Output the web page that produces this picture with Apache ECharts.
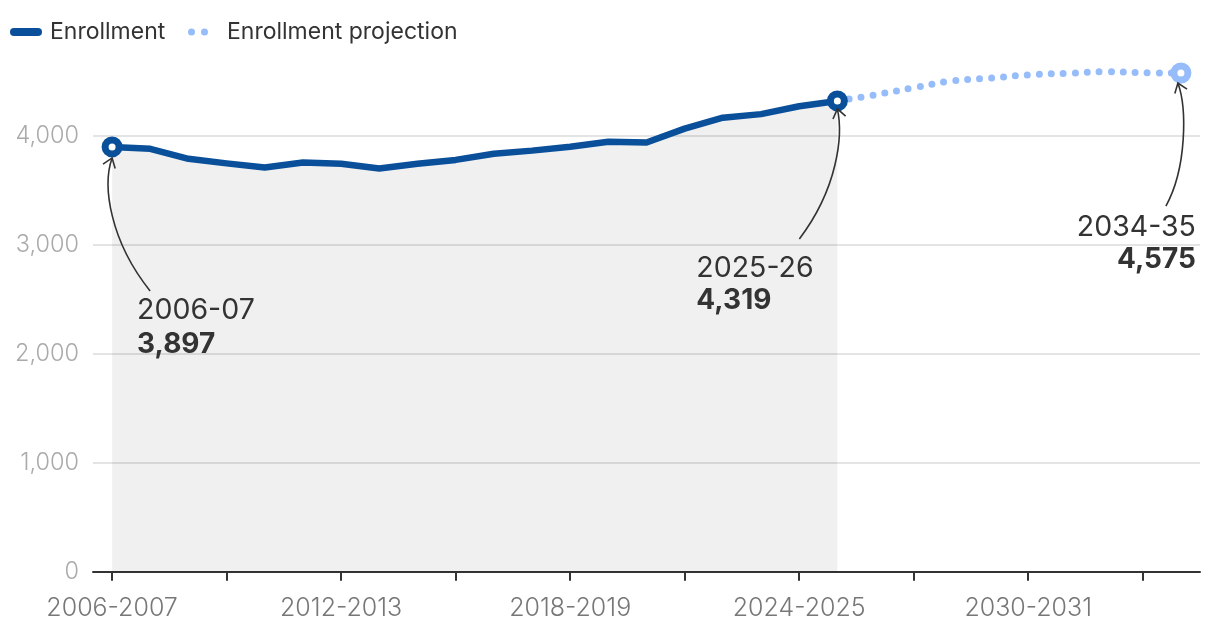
<!DOCTYPE html>
<html>
<head>
<meta charset="utf-8">
<script src="https://cdn.jsdelivr.net/npm/echarts@6/dist/echarts.min.js"></script>
<style>
html,body{margin:0;padding:0;background:#fff;}
#chart{width:1220px;height:632px;}
</style>
</head>
<body>
<div id="chart"></div>
<script>
const categories = ['2006-2007','2007-2008','2008-2009','2009-2010','2010-2011','2011-2012','2012-2013','2013-2014','2014-2015','2015-2016','2016-2017','2017-2018','2018-2019','2019-2020','2020-2021','2021-2022','2022-2023','2023-2024','2024-2025','2025-2026','2026-2027','2027-2028','2028-2029','2029-2030','2030-2031','2031-2032','2032-2033','2033-2034','2034-2035'];
const enrollment = [3897,3880,3788,3746,3709,3755,3742,3700,3742,3778,3835,3863,3899,3945,3937,4065,4165,4198,4270,4319,null,null,null,null,null,null,null,null,null];
const projection = [null,null,null,null,null,null,null,null,null,null,null,null,null,null,null,null,null,null,null,4319,4376,4440,4503,4528,4558,4572,4587,4578,4575];
const yTicks = [0,1000,2000,3000,4000];
const annotations = [
  {series:'enrollment', index:0, label:'2006-07'},
  {series:'enrollment', index:19, label:'2025-26'},
  {series:'projection', index:28, label:'2034-35'}
];

const DARK = '#0a4f9a';
const LIGHT = '#96bdfa';
const FONT = 'Inter, "DejaVu Sans", sans-serif';

function endpointItems(arr, color, idxs){
  return arr.map((v,i)=> idxs.includes(i) && v!=null ? {
    value:v, symbol:'circle', symbolSize:14,
    itemStyle:{color:'#fff', borderColor:color, borderWidth:7}
  } : v);
}

const chart = echarts.init(document.getElementById('chart'), null, {renderer:'canvas'});
const option = {
  animation:false,
  backgroundColor:'#fff',
  textStyle:{fontFamily:FONT},
  legend:[
    {
      left:10, top:20, padding:0, itemWidth:32, itemHeight:8,
      selectedMode:false,
      data:[{name:'Enrollment', icon:'path://M4,0H28A4,4 0 0 1 28,8H4A4,4 0 0 1 4,0Z', itemStyle:{color:DARK, borderWidth:0}}],
      textStyle:{fontFamily:FONT, fontSize:23, color:'#333', lineHeight:24, padding:[0,0,0,3]}
    },
    {
      left:188, top:20, padding:0, itemWidth:20, itemHeight:7,
      selectedMode:false,
      data:[{name:'Enrollment projection', icon:'path://M0,3.5A3.5,3.5 0 1 1 7,3.5A3.5,3.5 0 1 1 0,3.5ZM13,3.5A3.5,3.5 0 1 1 20,3.5A3.5,3.5 0 1 1 13,3.5Z', itemStyle:{color:LIGHT, borderWidth:0}}],
      textStyle:{fontFamily:FONT, fontSize:23, color:'#333', lineHeight:24, padding:[0,0,0,14]}
    }
  ],
  grid:{left:93, right:20, top:48.5, bottom:60.3, containLabel:false, outerBoundsMode:'none'},
  xAxis:{
    type:'category', data:categories, boundaryGap:true,
    axisLine:{show:true, lineStyle:{color:'#333', width:2}},
    axisTick:{show:true, alignWithLabel:true, interval:2, length:9, inside:false, lineStyle:{color:'#333', width:2}},
    axisLabel:{interval:5, margin:24, color:'#777', fontSize:25, fontFamily:FONT, fontWeight:300},
    splitLine:{show:false}
  },
  yAxis:{
    type:'value', min:0, max:4800, interval:1000,
    axisLine:{show:false}, axisTick:{show:false},
    axisLabel:{margin:14, color:'#aaa', fontSize:23.5, fontFamily:FONT, fontWeight:300, showMaxLabel:false,
      formatter:v=> yTicks.includes(v) ? v.toLocaleString('en-US') : ''},
    splitLine:{lineStyle:{color:['#e4e4e4','#e4e4e4','#e4e4e4','#e4e4e4','#e4e4e4','rgba(0,0,0,0)'], width:2}}
  },
  series:[
    {
      name:'Enrollment projection', type:'line', smooth:0.4,
      data:endpointItems(projection, LIGHT, [28]),
      symbol:'circle', symbolSize:0, showSymbol:true,
      itemStyle:{color:LIGHT},
      lineStyle:{color:LIGHT, width:7, type:[0,12], cap:'round'},
      z:2
    },
    {
      name:'Enrollment', type:'line', smooth:false,
      data:endpointItems(enrollment, DARK, [0,19]),
      symbol:'circle', symbolSize:0, showSymbol:true,
      itemStyle:{color:DARK},
      lineStyle:{color:DARK, width:6.5, cap:'round', join:'round'},
      areaStyle:{color:'rgba(0,0,0,0.06)', opacity:1},
      z:3
    }
  ]
};
chart.setOption(option);

// annotation layout (offsets relative to the data point pixel)
const layouts = [
  {textX:25, y1:164, y2:198, align:'left', p0:[38,144], p1:[-2,94], p2:[-10,39], p3:[0,11]},
  {textX:-141, y1:168, y2:200, align:'left', p0:[-38,138], p1:[0,88], p2:[6,35], p3:[0,8]},
  {textX:15, y1:154, y2:187, align:'right', p0:[-15,133], p1:[6,95], p2:[6,35], p3:[-3,10]}
];
const graphics = [];
annotations.forEach((a,k)=>{
  const arr = a.series==='enrollment' ? enrollment : projection;
  const v = arr[a.index];
  const p = chart.convertToPixel({gridIndex:0}, [a.index, v]);
  const L = layouts[k];
  const px=p[0], py=p[1];
  graphics.push({type:'text', silent:true, z:10, x:px+L.textX, y:py+L.y1,
    style:{text:a.label, fontFamily:FONT, fontSize:28.5, fontWeight:'normal', fill:'#333',
      align:L.align, textAlign:L.align, verticalAlign:'middle', textVerticalAlign:'middle'}});
  graphics.push({type:'text', silent:true, z:10, x:px+L.textX, y:py+L.y2,
    style:{text:v.toLocaleString('en-US'), fontFamily:FONT, fontSize:28, fontWeight:'bold', fill:'#333',
      align:L.align, textAlign:L.align, verticalAlign:'middle', textVerticalAlign:'middle'}});
  const P0=[px+L.p0[0],py+L.p0[1]], P1=[px+L.p1[0],py+L.p1[1]], P2=[px+L.p2[0],py+L.p2[1]], P3=[px+L.p3[0],py+L.p3[1]];
  graphics.push({type:'bezierCurve', silent:true, z:10,
    shape:{x1:P0[0],y1:P0[1],cpx1:P1[0],cpy1:P1[1],cpx2:P2[0],cpy2:P2[1],x2:P3[0],y2:P3[1]},
    style:{stroke:'#333', lineWidth:1.6, fill:null}});
  let dx=P3[0]-P2[0], dy=P3[1]-P2[1];
  const len=Math.hypot(dx,dy); dx/=len; dy/=len;
  const ang=Math.PI/5, al=11;
  const bx=-dx, by=-dy;
  const r1=[bx*Math.cos(ang)-by*Math.sin(ang), bx*Math.sin(ang)+by*Math.cos(ang)];
  const r2=[bx*Math.cos(-ang)-by*Math.sin(-ang), bx*Math.sin(-ang)+by*Math.cos(-ang)];
  graphics.push({type:'polyline', silent:true, z:10,
    shape:{points:[[P3[0]+r1[0]*al,P3[1]+r1[1]*al],[P3[0],P3[1]],[P3[0]+r2[0]*al,P3[1]+r2[1]*al]]},
    style:{stroke:'#333', lineWidth:1.6, fill:null}});
});
chart.setOption({graphic:graphics});
</script>
</body>
</html>
